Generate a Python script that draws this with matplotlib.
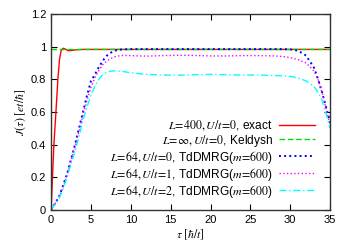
import matplotlib
matplotlib.use("Agg")
import matplotlib.pyplot as plt

plt.rcParams['font.family'] = ['Liberation Sans', 'DejaVu Sans']
plt.rcParams['mathtext.fontset'] = 'stix'
plt.rcParams['font.size'] = 8

# exact, L=400
t_exact = [0, 0.17, 0.34, 0.6, 0.85, 1.05, 1.25, 1.5, 1.8, 2.1, 2.5, 3, 4, 35]
j_exact = [0, 0.2, 0.39, 0.595, 0.8, 0.92, 0.975, 0.99, 0.985, 0.976, 0.976, 0.98, 0.983, 0.983]

# Keldysh, L=inf
t_keld = [0, 35]
j_keld = [0.985, 0.985]

# TdDMRG, L=64
t64 = [0, 1, 1.5, 2, 2.5, 3, 3.5, 4, 4.5, 5, 5.5, 6, 6.5, 7, 7.5, 8, 8.5, 9, 10,
       11, 12, 14, 16, 18, 20, 22, 24, 26, 28, 29, 30, 31, 32, 33, 33.5, 34, 34.5, 35]
j_u0 = [0, 0.08, 0.15, 0.22, 0.31, 0.40, 0.50, 0.60, 0.70, 0.79, 0.83, 0.875, 0.915,
        0.945, 0.963, 0.975, 0.981, 0.983, 0.985, 0.985, 0.985, 0.985, 0.985, 0.985,
        0.985, 0.985, 0.985, 0.985, 0.985, 0.985, 0.983, 0.975, 0.945, 0.87, 0.80,
        0.72, 0.63, 0.54]
j_u1 = [0, 0.08, 0.14, 0.21, 0.30, 0.39, 0.48, 0.58, 0.67, 0.75, 0.81, 0.855, 0.89,
        0.912, 0.928, 0.938, 0.943, 0.946, 0.945, 0.943, 0.942, 0.945, 0.947, 0.946,
        0.943, 0.943, 0.945, 0.945, 0.943, 0.94, 0.933, 0.92, 0.90, 0.85, 0.80,
        0.72, 0.62, 0.52]
j_u2 = [0, 0.07, 0.13, 0.20, 0.28, 0.36, 0.45, 0.55, 0.63, 0.70, 0.76, 0.80, 0.83,
        0.845, 0.85, 0.852, 0.85, 0.848, 0.84, 0.835, 0.83, 0.826, 0.825, 0.828,
        0.83, 0.828, 0.826, 0.826, 0.823, 0.822, 0.818, 0.808, 0.79, 0.755, 0.72,
        0.67, 0.59, 0.50]

labels = [r'$L\!=\!400,U/t\!=\!0$, exact',
          r'$L\!=\!\infty,U/t\!=\!0$, Keldysh',
          r'$L\!=\!64,U/t\!=\!0$, TdDMRG($m\!=\!600$)',
          r'$L\!=\!64,U/t\!=\!1$, TdDMRG($m\!=\!600$)',
          r'$L\!=\!64,U/t\!=\!2$, TdDMRG($m\!=\!600$)']

fig = plt.figure(figsize=(3.5, 2.45), dpi=100)
ax = fig.add_axes([0.146, 0.143, 0.797, 0.8])

ax.plot(t_exact, j_exact, '-', color='#ff0000', lw=1, label=labels[0])
ax.plot(t_keld, j_keld, '--', color='#00dd00', lw=1, dashes=(4, 2), label=labels[1])
ax.plot(t64, j_u0, ':', color='#0000ff', lw=1.4, label=labels[2])
ax.plot(t64, j_u1, ':', color='#ff00ff', lw=1, label=labels[3])
ax.plot(t64, j_u2, '-.', color='#00ffff', lw=1, dashes=(5, 2, 1, 2), label=labels[4])

ax.set_xlim(0, 35)
ax.set_ylim(0, 1.2)
ax.set_xticks(range(0, 36, 5))
ax.set_yticks([0, 0.2, 0.4, 0.6, 0.8, 1.0, 1.2])
ax.set_yticklabels(['0', '0.2', '0.4', '0.6', '0.8', '1', '1.2'])
ax.tick_params(direction='in', top=True, right=True, length=4, width=0.8)
for s in ax.spines.values():
    s.set_linewidth(1)
    s.set_color('#333333')

ax.set_xlabel(r'$\tau\ [\hbar/t]$', labelpad=2, fontsize=8.5)
ax.set_ylabel(r'$J(\tau)\ [et/\hbar]$', labelpad=2, fontsize=8.5)

leg = ax.legend(loc='lower right', bbox_to_anchor=(0.975, 0.01), frameon=False,
                markerfirst=False, handlelength=3.0, handletextpad=0.5,
                labelspacing=0.0, borderpad=0.2, fontsize=8.6)
leg._legend_box._children[-1]._children[0].align = 'right'

fig.savefig('out.png', dpi=100)
